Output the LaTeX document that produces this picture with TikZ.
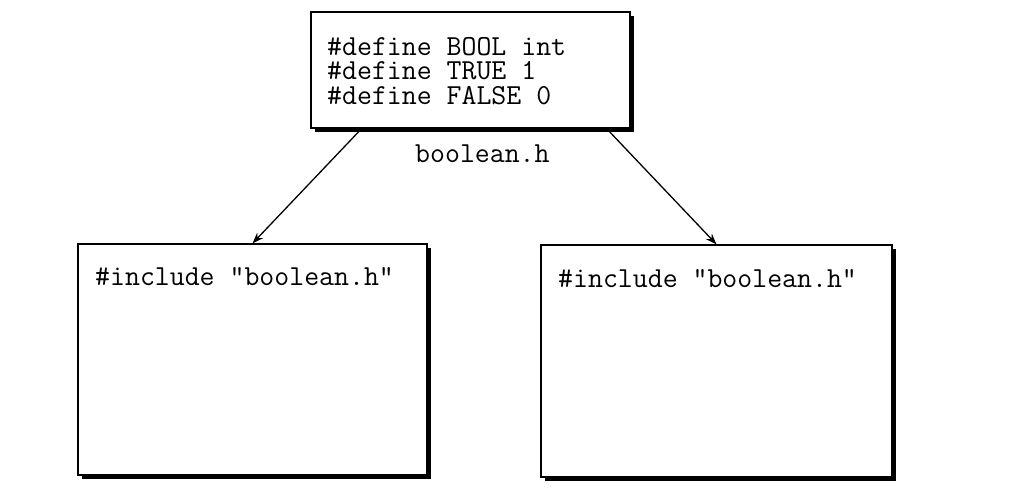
\documentclass[tikz,border=0pt]{standalone}
\usetikzlibrary{calc,arrows.meta,shadows}
\tikzset{
  box/.style={draw=black, line width=1.2pt, fill=white, inner sep=0pt,
    drop shadow={fill=black, opacity=1, shadow xshift=4pt, shadow yshift=-4pt}},
  code/.style={anchor=base west, inner sep=0pt, font=\ttfamily\fontsize{29}{25}\selectfont},
  link/.style={line width=1.3pt, -{Stealth[length=11pt,width=8pt]}}
}
\begin{document}
\begin{tikzpicture}[x=1pt,y=-1pt]
\useasboundingbox (0,0) rectangle (1010,495);
% boxes
\node[box, minimum width=319pt, minimum height=116pt] (top) at (470.5,70) {};
\node[box, minimum width=349pt, minimum height=231pt] (lb) at (252.5,359.5) {};
\node[box, minimum width=351pt, minimum height=232pt] (rb) at (716.5,361) {};
% texts
\node[code, align=left] (defs) at (327,105) {\#define BOOL int\\\#define TRUE 1\\\#define FALSE 0};
\node[code] (lbl) at (415,162) {boolean.h};
\node[code] (lt) at (95,285) {\#include "boolean.h"};
\node[code] (rt) at (558,287) {\#include "boolean.h"};
% connectors
\coordinate (s1) at ($(top.south west)!0.16!(top.south east)$);
\coordinate (s2) at ($(top.south west)!0.925!(top.south east)$);
\draw[link] (s1) -- (lb.north);
\draw[link] (s2) -- (rb.north);
\end{tikzpicture}
\end{document}
